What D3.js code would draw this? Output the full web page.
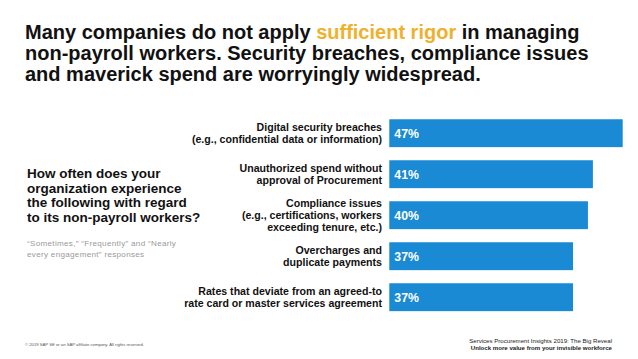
<!DOCTYPE html>
<html>
<head>
<meta charset="utf-8">
<script src="https://cdn.jsdelivr.net/npm/d3@7"></script>
<style>
  body { margin: 0; background: #fff; }
  svg { display: block; font-family: "Liberation Sans", Arial, sans-serif; }
</style>
</head>
<body>
<svg width="638" height="359"></svg>
<script>
const categories = [
  ['Digital security breaches', '(e.g., confidential data or information)'],
  ['Unauthorized spend without', 'approval of Procurement'],
  ['Compliance issues', '(e.g., certifications, workers', 'exceeding tenure, etc.)'],
  ['Overcharges and', 'duplicate payments'],
  ['Rates that deviate from an agreed-to', 'rate card or master services agreement']
];
const values = [47, 41, 40, 37, 37];

const titleLines = [
  [['Many companies do not apply ', false], ['sufficient rigor', true], [' in managing', false]],
  [['non-payroll workers. Security breaches, compliance issues', false]],
  [['and maverick spend are worryingly widespread.', false]]
];
const questionLines = ['How often does your', 'organization experience', 'the following with regard', 'to its non-payroll workers?'];
const noteLines = ['\u201cSometimes,\u201d \u201cFrequently\u201d and \u201cNearly', 'every engagement\u201d responses'];

const svg = d3.select('svg');

const blue = '#1a8ad4';
const gold = '#efb12c';

// title
const title = svg.append('text')
  .attr('x', 25)
  .attr('font-size', 20)
  .attr('font-weight', 'bold')
  .attr('fill', '#111');
titleLines.forEach((line, i) => {
  line.forEach(([t, hi], j) => {
    const ts = title.append('tspan').text(t).attr('fill', hi ? gold : '#111');
    if (j === 0) ts.attr('x', 25).attr('y', 39 + i * 21);
  });
});

// question on the left
svg.append('g').selectAll('text')
  .data(questionLines)
  .enter().append('text')
    .attr('x', 27)
    .attr('y', (d, i) => 178 + i * 14.7)
    .attr('font-size', 13.5)
    .attr('font-weight', 'bold')
    .attr('fill', '#111')
    .text(d => d);

svg.append('g').selectAll('text')
  .data(noteLines)
  .enter().append('text')
    .attr('x', 27)
    .attr('y', (d, i) => 246 + i * 10.5)
    .attr('font-size', 8.1)
    .attr('letter-spacing', 0.3)
    .attr('fill', '#9a9a9a')
    .text(d => d);

// bars
const y = d3.scaleBand()
  .domain(d3.range(values.length))
  .range([112.7, 317.7])
  .paddingInner(0.32)
  .paddingOuter(0.16);

const x = d3.scaleLinear()
  .domain([0, 47])
  .range([389.3, 622.7]);

const rows = svg.append('g').selectAll('g')
  .data(values)
  .enter().append('g');

rows.append('rect')
  .attr('x', x(0))
  .attr('y', (d, i) => y(i))
  .attr('width', d => x(d) - x(0))
  .attr('height', y.bandwidth())
  .attr('fill', blue);

rows.append('text')
  .attr('x', x(0) + 5)
  .attr('y', (d, i) => y(i) + y.bandwidth() / 2 + 4.3)
  .attr('font-size', 12.3)
  .attr('font-weight', 'bold')
  .attr('fill', '#fff')
  .text(d => d + '%');

// category labels
const lineH = 12.3;
rows.append('text')
  .attr('text-anchor', 'end')
  .attr('font-size', 10.6)
  .attr('font-weight', 'bold')
  .attr('fill', '#111')
  .each(function(d, i) {
    const lines = categories[i];
    const c = y(i) + y.bandwidth() / 2 + 3.8;
    d3.select(this).selectAll('tspan')
      .data(lines)
      .enter().append('tspan')
        .attr('x', 382)
        .attr('y', (t, k) => c + (k - (lines.length - 1) / 2) * lineH)
        .text(t => t);
  });

// footer
svg.append('text')
  .attr('x', 25)
  .attr('y', 346)
  .attr('font-size', 4.2)
  .attr('fill', '#555')
  .text('\u00a9 2019 SAP SE or an SAP affiliate company. All rights reserved.');

svg.append('text')
  .attr('x', 612)
  .attr('y', 343)
  .attr('text-anchor', 'end')
  .attr('font-size', 6.1)
  .attr('fill', '#222')
  .text('Services Procurement Insights 2019: The Big Reveal');

svg.append('text')
  .attr('x', 612)
  .attr('y', 350)
  .attr('text-anchor', 'end')
  .attr('font-size', 6.1)
  .attr('font-weight', 'bold')
  .attr('fill', '#222')
  .text('Unlock more value from your invisible workforce');
</script>
</body>
</html>
